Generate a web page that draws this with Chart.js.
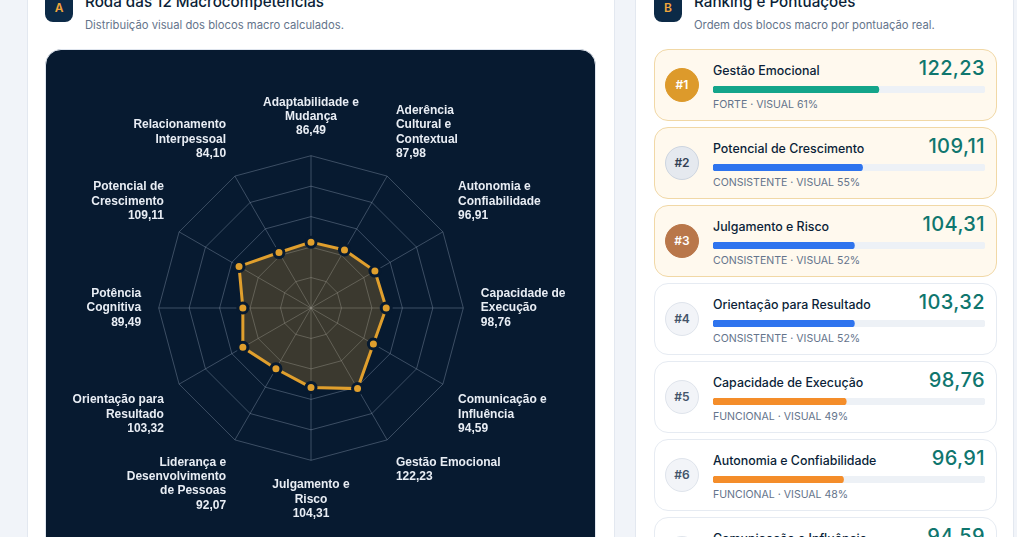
<!DOCTYPE html>
<html lang="pt-BR">
<head>
<meta charset="utf-8">
<title>Roda das 12 Macrocompetências</title>
<script src="https://cdn.jsdelivr.net/npm/chart.js@4"></script>
<style>
  html, body { margin: 0; height: 100%; overflow: hidden; }
  body { background: #f1f4f9; font-family: Inter, "Noto Sans", sans-serif; color: #0b1f38; width: 1017px; height: 537px; position: relative; }
  .panel { position: absolute; top: -30px; height: 700px; background: #fff; border: 1px solid #e3e8f0; box-sizing: border-box; }
  #left { left: 27px; width: 588px; }
  #right { left: 635px; width: 379px; }
  .tag { position: absolute; top: -7px; width: 28px; height: 29px; border-radius: 8px; background: #0c2a47; color: #f0a63c; font-size: 12px; font-weight: 600; line-height: 29px; text-align: center; }
  .head { position: absolute; top: -8px; font-size: 15.2px; font-weight: 500; white-space: nowrap; }
  .sub { position: absolute; top: 18px; font-size: 11.25px; color: #64748b; white-space: nowrap; }
  #dark { position: absolute; left: 45px; top: 49px; width: 551px; height: 560px; background: #071a30; border-radius: 16px; border: 1px solid #dfe5ee; box-sizing: border-box; }
  #radarBox { position: absolute; left: 48px; top: 94.5px; width: 549px; height: 427px; }
  .card { position: absolute; left: 654px; width: 343px; height: 72px; box-sizing: border-box; border-radius: 14px; border: 1px solid #e6ebf2; background: #fff; }
  .card.top { background: #fff9ee; border-color: #f1d8a6; }
  .badge { position: absolute; left: 10px; top: 18px; width: 34px; height: 34px; box-sizing: border-box; border-radius: 50%; text-align: center; line-height: 32px; font-size: 12px; font-weight: 600; background: #f2f4f8; border: 1px solid #dfe4ec; color: #44546a; }
  .name { position: absolute; left: 58px; top: 13px; font-size: 12.4px; font-weight: 500; white-space: nowrap; }
  .score { position: absolute; right: 11px; top: 6px; font-size: 20px; font-weight: 500; letter-spacing: .4px; color: #0f766e; white-space: nowrap; }
  .meta { position: absolute; left: 58px; top: 48px; font-size: 10.55px; color: #64748b; white-space: nowrap; }
  .track { position: absolute; left: 58px; top: 36px; width: 272px; height: 7px; }
</style>
</head>
<body>
<div class="panel" id="left"></div>
<div class="panel" id="right"></div>
<div class="tag" style="left:45px">A</div>
<div class="head" style="left:85px">Roda das 12 Macrocompetências</div>
<div class="sub" style="left:85px">Distribuição visual dos blocos macro calculados.</div>
<div class="tag" style="left:654px">B</div>
<div class="head" style="left:694px">Ranking e Pontuações</div>
<div class="sub" style="left:694px">Ordem dos blocos macro por pontuação real.</div>
<div id="dark"></div>
<div id="radarBox"><canvas id="radar"></canvas></div>
<div id="cards"></div>
<script>
var categories = [
  ["Adaptabilidade e", "Mudança"],
  ["Aderência", "Cultural e", "Contextual"],
  ["Autonomia e", "Confiabilidade"],
  ["Capacidade de", "Execução"],
  ["Comunicação e", "Influência"],
  ["Gestão Emocional"],
  ["Julgamento e", "Risco"],
  ["Liderança e", "Desenvolvimento", "de Pessoas"],
  ["Orientação para", "Resultado"],
  ["Potência", "Cognitiva"],
  ["Potencial de", "Crescimento"],
  ["Relacionamento", "Interpessoal"]
];
var scores = [86.49, 87.98, 96.91, 98.76, 94.59, 122.23, 104.31, 92.07, 103.32, 89.49, 109.11, 84.10];

var rankNames = ["Gestão Emocional", "Potencial de Crescimento", "Julgamento e Risco", "Orientação para Resultado", "Capacidade de Execução", "Autonomia e Confiabilidade", "Comunicação e Influência"];
var rankScores = [122.23, 109.11, 104.31, 103.32, 98.76, 96.91, 94.59];
var rankVisual = [61, 55, 52, 52, 49, 48, 47];
var rankLevels = ["FORTE", "CONSISTENTE", "CONSISTENTE", "CONSISTENTE", "FUNCIONAL", "FUNCIONAL", "FUNCIONAL"];

var levelColors = { FORTE: "#14a58a", CONSISTENTE: "#2f74ee", FUNCIONAL: "#f48d2a" };
var badgeStyles = [
  "background:#dd9a2b;border-color:#dd9a2b;color:#fff",
  "background:#e5e9ef;border-color:#cdd5e0;color:#334155",
  "background:#b9774a;border-color:#b9774a;color:#fff"
];

function fmt(v) { return v.toFixed(2).replace(".", ","); }

new Chart(document.getElementById("radar"), {
  type: "radar",
  data: {
    labels: categories.map(function (c, i) { return c.concat(fmt(scores[i])); }),
    datasets: [{
      data: scores,
      borderColor: "#e09f2d",
      borderWidth: 3,
      backgroundColor: "rgba(224,159,45,0.24)",
      pointBackgroundColor: "#e09f2d",
      pointBorderColor: "#071a30",
      pointBorderWidth: 3,
      pointRadius: 5
    }]
  },
  options: {
    responsive: true,
    maintainAspectRatio: false,
    animation: false,
    plugins: { legend: { display: false }, tooltip: { enabled: false } },
    scales: {
      r: {
        min: 0,
        max: 200,
        ticks: { stepSize: 40, display: false },
        grid: { color: "rgba(148,163,184,0.38)" },
        angleLines: { color: "rgba(148,163,184,0.38)" },
        pointLabels: { padding: 17.5, color: "#e8edf4", font: { family: "Liberation Sans", size: 12, weight: "bold" } }
      }
    }
  }
});

var cards = document.getElementById("cards");
rankNames.forEach(function (name, i) {
  var card = document.createElement("div");
  card.className = "card" + (i < 3 ? " top" : "");
  card.style.top = (49 + i * 78) + "px";
  card.innerHTML =
    '<div class="badge" style="' + (badgeStyles[i] || "") + '">#' + (i + 1) + '</div>' +
    '<div class="name">' + name + '</div>' +
    '<div class="score">' + fmt(rankScores[i]) + '</div>' +
    '<div class="track"><canvas></canvas></div>' +
    '<div class="meta">' + rankLevels[i] + ' · VISUAL ' + rankVisual[i] + '%</div>';
  cards.appendChild(card);
  new Chart(card.querySelector("canvas"), {
    type: "bar",
    data: {
      labels: [name],
      datasets: [
        { data: [rankVisual[i]], backgroundColor: levelColors[rankLevels[i]], order: 1 },
        { data: [100], backgroundColor: "#edf1f6", order: 2 }
      ]
    },
    options: {
      indexAxis: "y",
      responsive: true,
      maintainAspectRatio: false,
      animation: false,
      datasets: { bar: { grouped: false, barThickness: 7, borderRadius: 4, borderSkipped: false } },
      plugins: { legend: { display: false }, tooltip: { enabled: false } },
      scales: {
        x: { display: false, min: 0, max: 100 },
        y: { display: false }
      }
    }
  });
});
</script>
</body>
</html>
